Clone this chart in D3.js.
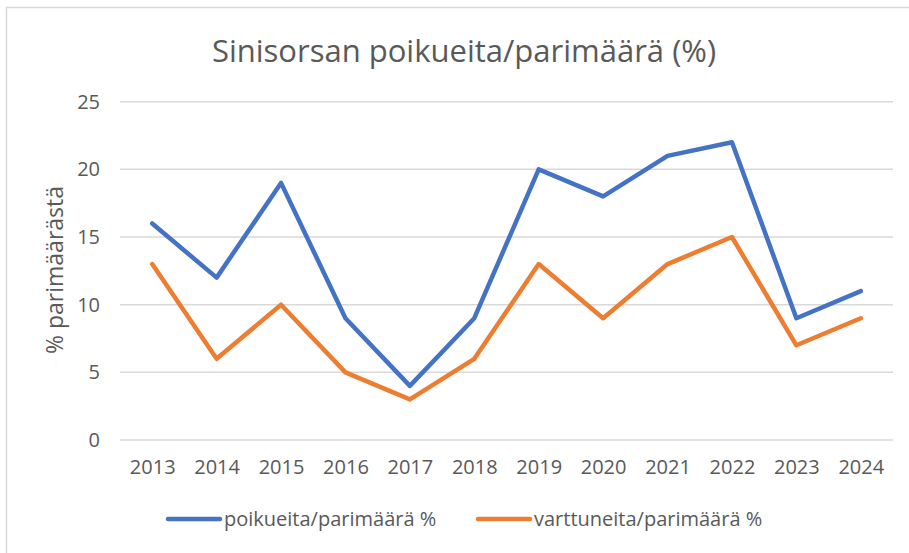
<html>
<head>
<meta charset="utf-8">
<script src="https://d3js.org/d3.v7.min.js"></script>
<style>
  body { margin: 0; background: #fff; }
  text { font-family: "Open Sans", sans-serif; fill: #595959; }
</style>
</head>
<body>
<svg width="909" height="553"></svg>
<script>
  // data
  var years = ["2013","2014","2015","2016","2017","2018","2019","2020","2021","2022","2023","2024"];
  var poikueita = [16, 12, 19, 9, 4, 9, 20, 18, 21, 22, 9, 11];
  var varttuneita = [13, 6, 10, 5, 3, 6, 13, 9, 13, 15, 7, 9];
  var yTicks = [0, 5, 10, 15, 20, 25];
  var seriesNames = ["poikueita/parimäärä %", "varttuneita/parimäärä %"];
  var colors = ["#4472C4", "#ED7D31"];

  var svg = d3.select("svg");

  // chart border
  svg.append("rect")
    .attr("x", 6.5).attr("y", 7.5)
    .attr("width", 920).attr("height", 560)
    .attr("fill", "none")
    .attr("stroke", "#d9d9d9")
    .attr("stroke-width", 1.5);

  var plotLeft = 120, plotRight = 893, plotTop = 101.7, plotBottom = 440;

  var x = d3.scalePoint()
    .domain(years)
    .range([plotLeft, plotRight])
    .padding(0.5);

  var y = d3.scaleLinear()
    .domain([0, 25])
    .range([plotBottom, plotTop]);

  // gridlines
  svg.append("g")
    .selectAll("line")
    .data(yTicks)
    .enter().append("line")
    .attr("x1", plotLeft).attr("x2", plotRight)
    .attr("y1", function(d) { return y(d); })
    .attr("y2", function(d) { return y(d); })
    .attr("stroke", "#d9d9d9")
    .attr("stroke-width", 1.5);

  // y axis labels
  var yAxis = svg.append("g")
    .attr("transform", "translate(" + (plotLeft - 20) + ",0)")
    .call(d3.axisLeft(y).tickValues(yTicks).tickSize(0).tickPadding(0));
  yAxis.select(".domain").remove();
  yAxis.selectAll("text")
    .attr("font-size", 20)
    .attr("fill", "#595959")
    .attr("font-family", "Open Sans");

  // x axis labels
  var xAxis = svg.append("g")
    .attr("transform", "translate(0," + (plotBottom + 20) + ")")
    .call(d3.axisBottom(x).tickSize(0).tickPadding(0));
  xAxis.select(".domain").remove();
  xAxis.selectAll("text")
    .attr("font-size", 20)
    .attr("fill", "#595959")
    .attr("font-family", "Open Sans");

  // lines
  var line = d3.line()
    .x(function(d, i) { return x(years[i]); })
    .y(function(d) { return y(d); });

  [poikueita, varttuneita].forEach(function(s, k) {
    svg.append("path")
      .datum(s)
      .attr("d", line)
      .attr("fill", "none")
      .attr("stroke", colors[k])
      .attr("stroke-width", 4.5)
      .attr("stroke-linejoin", "round")
      .attr("stroke-linecap", "round");
  });

  // title
  svg.append("text")
    .attr("x", 464)
    .attr("y", 62)
    .attr("text-anchor", "middle")
    .attr("font-size", 31)
    .text("Sinisorsan poikueita/parimäärä (%)");

  // y axis title
  svg.append("text")
    .attr("transform", "translate(63,270) rotate(-90)")
    .attr("text-anchor", "middle")
    .attr("font-size", 23)
    .text("% parimäärästä");

  // legend
  var legX = [168, 478];
  seriesNames.forEach(function(name, k) {
    svg.append("line")
      .attr("x1", legX[k]).attr("x2", legX[k] + 52)
      .attr("y1", 519).attr("y2", 519)
      .attr("stroke", colors[k])
      .attr("stroke-width", 4.5)
      .attr("stroke-linecap", "round");
    svg.append("text")
      .attr("x", legX[k] + 56)
      .attr("y", 526)
      .attr("font-size", 20)
      .text(name);
  });
</script>
</body>
</html>
